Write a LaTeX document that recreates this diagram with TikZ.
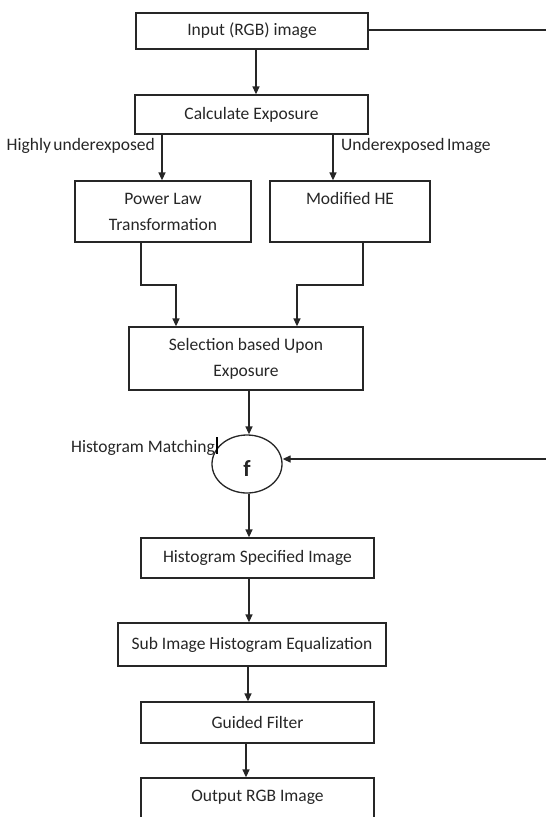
\documentclass[tikz,border=0pt]{standalone}
\usepackage{fontspec}
\setmainfont{Carlito}
\usetikzlibrary{arrows.meta,shapes.geometric}
\begin{document}
\begin{tikzpicture}[x=1pt,y=-1pt,
  font=\fontsize{17.5}{26}\selectfont,
  ln/.style={draw=black!85,line width=1.3pt},
  arr/.style={ln,-{Triangle[length=8pt,width=7pt]}},
  box/.style={ln,rectangle,inner sep=0pt,align=center,text=black!85},
  lbl/.style={inner sep=0pt,text=black!85}]
\useasboundingbox (0,0) rectangle (546,817);
\clip (0,0) rectangle (546,817);
% nodes
\node[box,minimum width=232pt,minimum height=36pt] (in) at (252,31) {Input (RGB) image};
\node[box,minimum width=233pt,minimum height=39pt] (calc) at (251.5,114.5) {Calculate Exposure};
\node[box,minimum width=176pt,minimum height=61pt] (pl) at (163,211.5) {Power Law\\Transformation};
\node[box,minimum width=160pt,minimum height=61pt] (mhe) at (350,211.5) {Modified HE\\\phantom{X}};
\node[box,minimum width=234pt,minimum height=63pt] (sel) at (246,358.5) {Selection based Upon\\Exposure};
\node[ln,ellipse,minimum width=70pt,minimum height=58pt,inner sep=0pt] (circ) at (247,464) {};
\node[lbl,font=\fontsize{23}{23}\selectfont\bfseries] (fsym) at (247,469) {f};
\node[box,minimum width=233pt,minimum height=40pt] (hs) at (257.5,558) {Histogram Specified Image};
\node[box,minimum width=268pt,minimum height=43pt] (sub) at (252,644.5) {Sub Image Histogram Equalization};
\node[box,minimum width=233pt,minimum height=41pt] (gf) at (257.5,722.5) {Guided Filter};
\node[box,minimum width=233pt,minimum height=62pt] (out) at (257.5,809) {Output RGB Image\\\phantom{X}};
% labels
\node[lbl,anchor=east] (lhigh) at (155,146) {\spaceskip=2.5pt\relax Highly underexposed};
\node[lbl,anchor=west] (lunder) at (341,146) {\spaceskip=2.5pt\relax Underexposed Image};
\node[lbl,anchor=east] (lmatch) at (215,448) {Histogram Matching};
\draw[line width=2.6pt,black] (217,437) -- (217,454);
% helper coordinates
\coordinate (xa) at (256,0);
\coordinate (xb) at (162,0);
\coordinate (xc) at (333,0);
\coordinate (pla) at (141,285);
\coordinate (plb) at (176,285);
\coordinate (mha) at (363,285);
\coordinate (mhb) at (297,285);
\coordinate (xd) at (249,0);
\coordinate (xe) at (248,0);
\coordinate (xf) at (246,0);
\coordinate (r1) at (549,30);
\coordinate (r2) at (549,459);
% connectors
\draw[arr] (in.south -| xa) -- (calc.north -| xa);
\draw[arr] (calc.south -| xb) -- (pl.north -| xb);
\draw[arr] (calc.south -| xc) -- (mhe.north -| xc);
\draw[arr] (pl.south -| pla) -- (pla) -- (plb) -- (sel.north -| plb);
\draw[arr] (mhe.south -| mha) -- (mha) -- (mhb) -- (sel.north -| mhb);
\draw[arr] (sel.south -| xd) -- (circ.north -| xd);
\draw[arr] (circ.south -| xd) -- (hs.north -| xd);
\draw[arr] (hs.south -| xd) -- (sub.north -| xd);
\draw[arr] (sub.south -| xe) -- (gf.north -| xe);
\draw[arr] (gf.south -| xf) -- (out.north -| xf);
\draw[ln] (in.east |- r1) -- (r1) -- (r2);
\draw[arr] (r2) -- (r2 -| circ.east);
\end{tikzpicture}
\end{document}
